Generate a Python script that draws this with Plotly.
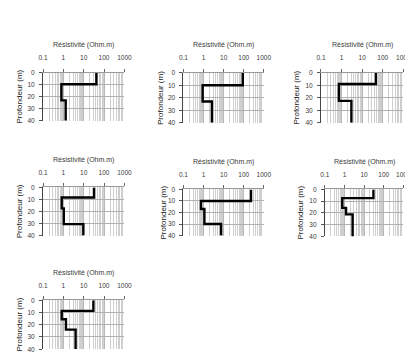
import plotly.graph_objects as go

W, H = 413, 356

# Data: layer resistivities (Ohm.m) and layer top depths (m) for each sounding
rho_1 = [42, 0.8, 1.3]
top_1 = [0, 9.5, 23]
rho_2 = [90, 0.9, 2.6]
top_2 = [0, 10, 23]
rho_3 = [47, 0.74, 3.0]
top_3 = [0, 9, 22.5]
rho_4 = [32, 0.83, 1.05, 9.6]
top_4 = [0, 8.4, 17.4, 30.5]
rho_5 = [230, 0.74, 1.1, 7.4]
top_5 = [0, 10, 17, 30]
rho_6 = [30, 0.77, 1.2, 2.6]
top_6 = [0, 7.4, 15.7, 21.2]
rho_7 = [30, 0.83, 1.34, 4.0]
top_7 = [0, 8.7, 15.5, 24]
max_depth = 40

x_tick_vals = [0.1, 1, 10, 100, 1000]
x_tick_text = ["0.1", "1", "10", "100", "1000"]
y_tick_vals = [0, 10, 20, 30, 40]
x_title = "Résistivité (Ohm.m)"
y_title = "Profondeur (m)"

profiles = [(rho_1, top_1), (rho_2, top_2), (rho_3, top_3), (rho_4, top_4),
            (rho_5, top_5), (rho_6, top_6), (rho_7, top_7)]

# plot-area boxes in pixels: x0, x1, y0(top), y1(bottom)
boxes = [
    (31, 115, 62, 111),
    (176, 259, 62, 113),
    (318, 403, 62, 113),
    (31, 115, 179, 228),
    (176, 259, 181, 228),
    (322, 403, 181, 229),
    (31, 115, 294, 344),
]
ytitle_x = [7, 153, 293, 7, 155, 297, 7]

fig = go.Figure()
annotations = []
font_family = "Liberation Sans"
txt_col = "#3a3a3a"

for i, ((rho, top), (x0, x1, y0, y1)) in enumerate(zip(profiles, boxes)):
    n = i + 1
    xa = "x" if n == 1 else f"x{n}"
    ya = "y" if n == 1 else f"y{n}"
    xs = list(rho) + [rho[-1]]
    ys = list(top) + [max_depth]
    fig.add_trace(go.Scatter(x=xs, y=ys, mode="lines", line_shape="vh",
                             line=dict(color="black", width=2.4),
                             xaxis=xa, yaxis=ya, showlegend=False,
                             hoverinfo="skip"))
    xkey = "xaxis" if n == 1 else f"xaxis{n}"
    ykey = "yaxis" if n == 1 else f"yaxis{n}"
    fig.update_layout(**{
        xkey: dict(type="log", range=[-1, 3], side="top",
                   domain=[x0 / W, x1 / W], anchor=ya,
                   tickvals=x_tick_vals, ticktext=x_tick_text,
                   ticks="outside", ticklen=3, tickcolor="#666",
                   ticklabelstandoff=6,
                   showgrid=True, gridcolor="#b8b8b8", gridwidth=1,
                   minor=dict(showgrid=True, gridcolor="#cfcfcf",
                              tickvals=[m * d for d in (0.1, 1, 10, 100)
                                        for m in range(2, 10)]),
                   showline=True, linecolor="#999", mirror=False,
                   tickfont=dict(size=6.5, family=font_family, color=txt_col),
                   zeroline=False, fixedrange=True),
        ykey: dict(range=[max_depth, 0], domain=[1 - y1 / H, 1 - y0 / H],
                   anchor=xa, tickvals=y_tick_vals,
                   ticks="outside", ticklen=3, tickcolor="#555",
                   ticklabelstandoff=3,
                   showgrid=True, gridcolor="#b0b0b0", gridwidth=1,
                   showline=True, linecolor="#444", linewidth=1,
                   tickfont=dict(size=6.5, family=font_family, color=txt_col),
                   zeroline=False, fixedrange=True),
    })
    annotations.append(dict(text=x_title, x=(x0 + x1) / 2 / W,
                            y=1 - (y0 - 28) / H, xref="paper", yref="paper",
                            showarrow=False, xanchor="center", yanchor="middle",
                            font=dict(size=7, family=font_family, color=txt_col)))
    annotations.append(dict(text=y_title, x=ytitle_x[i] / W,
                            y=1 - (y0 + y1) / 2 / H, xref="paper", yref="paper",
                            showarrow=False, textangle=-90,
                            xanchor="center", yanchor="middle",
                            font=dict(size=8, family=font_family, color="#222")))

fig.update_layout(width=W, height=H, margin=dict(l=0, r=0, t=0, b=0),
                  paper_bgcolor="white", plot_bgcolor="white",
                  annotations=annotations)

fig.write_html("out.html")
